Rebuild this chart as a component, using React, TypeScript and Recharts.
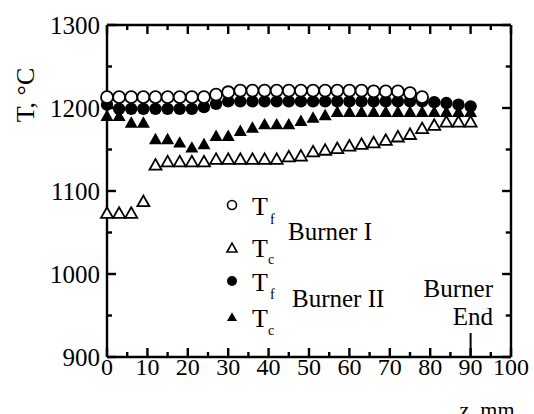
import { ReferenceLine, Scatter, ScatterChart, XAxis, YAxis } from "recharts";

// axial position, mm
const zPositions = [
	0, 3, 6, 9, 12, 15, 18, 21, 24, 27, 30, 33, 36, 39, 42, 45, 48, 51, 54, 57,
	60, 63, 66, 69, 72, 75, 78, 81, 84, 87, 90,
];

// temperatures, °C
const tfBurner1 = [
	1213, 1213, 1213, 1213, 1213, 1213, 1213, 1213, 1213, 1216, 1219, 1221, 1221,
	1221, 1221, 1221, 1221, 1221, 1221, 1221, 1221, 1221, 1220, 1220, 1220, 1218,
	1213,
];
const tcBurner1 = [
	1072, 1072, 1072, 1086, 1130, 1134, 1134, 1134, 1134, 1137, 1137, 1137, 1137,
	1137, 1137, 1140, 1141, 1146, 1148, 1150, 1153, 1155, 1157, 1160, 1164, 1167,
	1174, 1178, 1182, 1182, 1182,
];
const tfBurner2 = [
	1204, 1199, 1199, 1199, 1199, 1199, 1199, 1199, 1201, 1205, 1208, 1208, 1208,
	1208, 1208, 1208, 1208, 1208, 1208, 1208, 1208, 1208, 1208, 1208, 1208, 1208,
	1208, 1207, 1206, 1204, 1202,
];
const tcBurner2 = [
	1189, 1189, 1181, 1181, 1161, 1161, 1157, 1151, 1155, 1165, 1165, 1171, 1175,
	1179, 1179, 1179, 1183, 1187, 1190, 1194, 1194, 1194, 1194, 1194, 1194, 1194,
	1194, 1194, 1194, 1194, 1194,
];

const xTicks = [
	0, 5, 10, 15, 20, 25, 30, 35, 40, 45, 50, 55, 60, 65, 70, 75, 80, 85, 90, 95,
	100,
];
const yTicks = [900, 950, 1000, 1050, 1100, 1150, 1200, 1250, 1300];

const X_MIN = 0;
const X_MAX = 100;
const Y_MIN = 900;
const Y_MAX = 1300;

const toPoints = (values: number[]) =>
	values.map((t, i) => ({ z: zPositions[i], t }));

const FONT = "'Liberation Serif', 'Times New Roman', serif";
const INK = "#000";

function BottomTick(props: any) {
	const { x, y, payload } = props;
	const major = payload.value % 10 === 0;
	return (
		<g>
			<line x1={x} x2={x} y1={y} y2={y - (major ? 9 : 5)} stroke={INK} strokeWidth={2.4} />
			{major && (
				<text x={x} y={y + 18} textAnchor="middle" fontSize={24} fontFamily={FONT} fill={INK}>
					{payload.value}
				</text>
			)}
		</g>
	);
}

function LeftTick(props: any) {
	const { x, y, payload } = props;
	const major = payload.value % 100 === 0;
	return (
		<g>
			<line x1={x} x2={x + (major ? 9 : 5)} y1={y} y2={y} stroke={INK} strokeWidth={2.4} />
			{major && (
				<text x={x - 7} y={y} textAnchor="end" dominantBaseline="central" fontSize={25} fontFamily={FONT} fill={INK}>
					{payload.value}
				</text>
			)}
		</g>
	);
}

const openCircle = (p: any) => (
	<circle cx={p.cx} cy={p.cy} r={6} fill="#fff" stroke={INK} strokeWidth={1.8} />
);
const filledCircle = (p: any) => <circle cx={p.cx} cy={p.cy} r={6.2} fill={INK} />;
const triPath = (cx: number, cy: number, s: number) =>
	`M${cx},${cy - s * 0.58} L${cx - s / 2},${cy + s * 0.3} L${cx + s / 2},${cy + s * 0.3} Z`;
const openTriangle = (p: any) => (
	<path d={triPath(p.cx, p.cy, 12)} fill="#fff" stroke={INK} strokeWidth={1.8} strokeLinejoin="miter" />
);
const filledTriangle = (p: any) => <path d={triPath(p.cx, p.cy, 13)} fill={INK} />;

const axisLine = { stroke: INK, strokeWidth: 2.4 };

// inward tick lengths in data units (about 9 px major, 5 px minor)
const xTickLen = (v: number) => (v % 10 === 0 ? 10.8 : 6);
const yTickLen = (v: number) => (v % 100 === 0 ? 2.2 : 1.3);

export default function App() {
	return (
		<div style={{ position: "absolute", left: 0, top: 0, width: 534, height: 414, background: "#fff" }}>
			{/* annotation layer sits underneath the chart */}
			<svg
				width={534}
				height={414}
				style={{ position: "absolute", left: 0, top: 0, pointerEvents: "none" }}
				fontFamily={FONT}
			>
				<text x={25} y={95} transform="rotate(-90 25 95)" textAnchor="middle" dominantBaseline="central" fontSize={26} fill={INK}>
					T, °C
				</text>
				<text x={487} y={417} textAnchor="middle" fontSize={22} fill={INK}>
					z, mm
				</text>

				<circle cx={232} cy={205} r={4.5} fill="#fff" stroke={INK} strokeWidth={1.6} />
				<text x={252} y={215} fontSize={26} fill={INK}>T</text>
				<text x={270} y={224} fontSize={14} fill={INK}>f</text>

				<path d={triPath(232, 249, 10)} fill="#fff" stroke={INK} strokeWidth={1.6} />
				<text x={252} y={257} fontSize={26} fill={INK}>T</text>
				<text x={268} y={264} fontSize={14} fill={INK}>c</text>

				<circle cx={232} cy={281} r={5} fill={INK} />
				<text x={252} y={291} fontSize={26} fill={INK}>T</text>
				<text x={270} y={299} fontSize={14} fill={INK}>f</text>

				<path d={triPath(232, 318, 10)} fill={INK} />
				<text x={252} y={327} fontSize={26} fill={INK}>T</text>
				<text x={268} y={335} fontSize={14} fill={INK}>c</text>

				<text x={288} y={240} fontSize={25} fill={INK}>Burner I</text>
				<text x={292} y={307} fontSize={25} fill={INK}>Burner II</text>
				<text x={493} y={297} textAnchor="end" fontSize={25} fill={INK}>Burner</text>
				<text x={493} y={325} textAnchor="end" fontSize={25} fill={INK}>End</text>
			</svg>
			<ScatterChart width={534} height={414} margin={{ top: 25, right: 23, bottom: 0, left: 0 }}>
				<XAxis
					xAxisId="main"
					dataKey="z"
					type="number"
					domain={[X_MIN, X_MAX]}
					ticks={xTicks}
					interval={0}
					height={57}
					tickSize={0}
					tickMargin={0}
					tickLine={false}
					axisLine={axisLine}
					tick={BottomTick}
				/>
				<YAxis
					yAxisId="main"
					dataKey="t"
					type="number"
					domain={[Y_MIN, Y_MAX]}
					ticks={yTicks}
					interval={0}
					width={107}
					tickSize={0}
					tickMargin={0}
					tickLine={false}
					axisLine={axisLine}
					tick={LeftTick}
				/>
				{/* top and right frame */}
				<ReferenceLine xAxisId="main" yAxisId="main" y={Y_MAX} ifOverflow="visible" stroke={INK} strokeWidth={2.4} />
				<ReferenceLine xAxisId="main" yAxisId="main" x={X_MAX} ifOverflow="visible" stroke={INK} strokeWidth={2.4} />
				{/* inward ticks on top and right */}
				{xTicks.map((v) => (
					<ReferenceLine
						key={`tt${v}`}
						xAxisId="main"
						yAxisId="main"
						ifOverflow="visible"
						segment={[{ x: v, y: Y_MAX }, { x: v, y: Y_MAX - xTickLen(v) }]}
						stroke={INK}
						strokeWidth={2.4}
					/>
				))}
				{yTicks.map((v) => (
					<ReferenceLine
						key={`tr${v}`}
						xAxisId="main"
						yAxisId="main"
						ifOverflow="visible"
						segment={[{ x: X_MAX, y: v }, { x: X_MAX - yTickLen(v), y: v }]}
						stroke={INK}
						strokeWidth={2.4}
					/>
				))}
				{/* burner end marker */}
				<ReferenceLine
					xAxisId="main"
					yAxisId="main"
					ifOverflow="visible"
					segment={[{ x: 90, y: Y_MIN }, { x: 90, y: 929 }]}
					stroke={INK}
					strokeWidth={2}
				/>
				<Scatter xAxisId="main" yAxisId="main" data={toPoints(tcBurner1)} dataKey="t" shape={openTriangle} isAnimationActive={false} />
				<Scatter xAxisId="main" yAxisId="main" data={toPoints(tcBurner2)} dataKey="t" shape={filledTriangle} isAnimationActive={false} />
				<Scatter xAxisId="main" yAxisId="main" data={toPoints(tfBurner2)} dataKey="t" shape={filledCircle} isAnimationActive={false} />
				<Scatter xAxisId="main" yAxisId="main" data={toPoints(tfBurner1)} dataKey="t" shape={openCircle} isAnimationActive={false} />
			</ScatterChart>
		</div>
	);
}
